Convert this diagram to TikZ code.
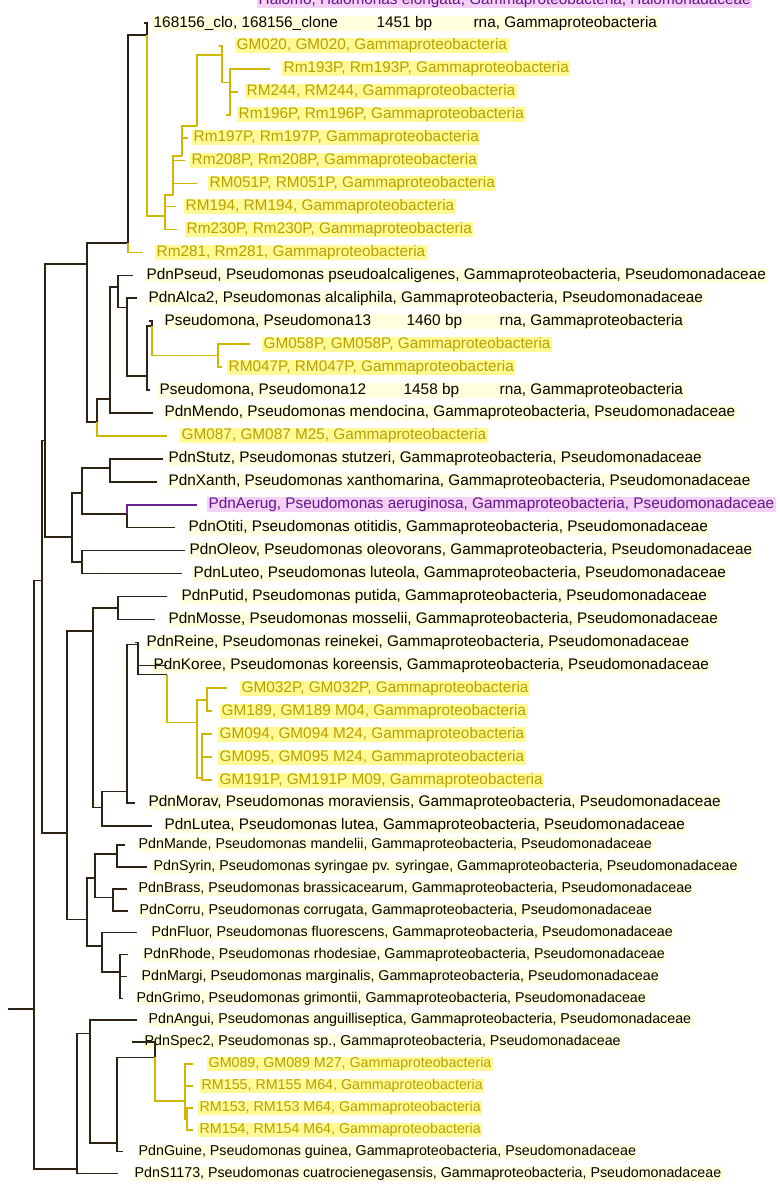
\documentclass[tikz,border=0pt]{standalone}
\usepackage{fontspec}
\setmainfont{Liberation Sans}
\usepackage{tikz}
\usetikzlibrary{positioning}

\definecolor{brn}{RGB}{45,35,20}
\definecolor{yln}{RGB}{208,184,0}
\definecolor{prl}{RGB}{105,35,140}
\definecolor{ytxt}{RGB}{185,160,0}
\definecolor{ptxt}{RGB}{100,20,140}
\definecolor{glowb}{RGB}{255,255,222}
\definecolor{glowy}{RGB}{255,250,150}
\definecolor{glowp}{RGB}{244,210,246}

\newcommand{\gam}{Gammaproteobacteria}
\newcommand{\gampse}{Gammaproteobacteria, Pseudomonadaceae}

\tikzset{
  tree/.style={draw=brn, line width=1.6bp},
  elbow/.style={to path={|- (\tikztotarget)}},
  yel/.style={elbow, draw=yln},
  pur/.style={elbow, draw=prl},
  leaf/.style={anchor=west, inner xsep=1.5bp, inner ysep=0.5bp, text height=11bp, text depth=3bp,
    fill=glowb, text=black, font=\fontsize{15.4}{18}\selectfont},
  yleaf/.style={leaf, fill=glowy, text=ytxt},
  pleaf/.style={leaf, fill=glowp, text=ptxt},
  lowrow/.style={font=\fontsize{14.3}{17}\selectfont, text height=10.2bp, text depth=2.8bp},
}

\begin{document}
\begin{tikzpicture}[x=1bp, y=-1bp,
  declare function={ry(\r)=ifthenelse(\r<35.7,23+22.94*\r,845+21.9*(\r-36));}]
\useasboundingbox (0,0) rectangle (780,1199);
\fill[white] (0,0) rectangle (780,1199);

% internal nodes
\coordinate (root) at (8,{ry(43.5)});
\coordinate (R1) at (34,{ry(43.5)});
\coordinate (R2) at (42,{ry(24.3)});
\coordinate (N1) at (45,{ry(18.2)});
\coordinate (N2) at (87,{ry(10.5)});
\coordinate (X) at (128,{ry(9.6)});
\coordinate (Y) at (147,{ry(0.53)});
\coordinate (Z) at (165,{ry(8.4)});
\coordinate (W) at (173,{ry(7.5)});
\coordinate (S) at (182,{ry(5.8)});
\coordinate (T) at (197,{ry(4.5)});
\coordinate (P) at (222,{ry(1.4)});
\coordinate (Q) at (230,{ry(2.6)});
\coordinate (N3) at (97,{ry(17.4)});
\coordinate (N4) at (110,{ry(16.4)});
\coordinate (N6) at (118,{ry(11.5)});
\coordinate (N7) at (127,{ry(12.4)});
\coordinate (N8) at (147,{ry(15.4)});
\coordinate (N9) at (152,{ry(13.2)});
\coordinate (N10) at (218,{ry(14.5)});
\coordinate (N11) at (72,{ry(22.4)});
\coordinate (N12) at (82,{ry(20.5)});
\coordinate (N13) at (110,{ry(19.4)});
\coordinate (N14) at (127,{ry(21.4)});
\coordinate (N15) at (82,{ry(23.5)});
\coordinate (K) at (67,{ry(35.3)});
\coordinate (M1) at (118,{ry(25.5)});
\coordinate (M2) at (93,{ry(26.5)});
\coordinate (M3) at (102,{ry(34.2)});
\coordinate (M4) at (127,{ry(33.5)});
\coordinate (M5) at (138,{ry(27.1)});
\coordinate (M6) at (167,{ry(28.4)});
\coordinate (M7) at (197,{ry(30.5)});
\coordinate (M8) at (207,{ry(29.5)});
\coordinate (M9) at (202,{ry(32.9)});
\coordinate (C1) at (87,{ry(39.4)});
\coordinate (C2) at (95,{ry(37.5)});
\coordinate (C3) at (117,{ry(36.4)});
\coordinate (C4) at (113,{ry(38.4)});
\coordinate (C5) at (102,{ry(40.6)});
\coordinate (C6) at (120,{ry(41.8)});
\coordinate (B1) at (77,{ry(50.8)});
\coordinate (B2) at (90,{ry(44.6)});
\coordinate (B3) at (117,{ry(49.6)});
\coordinate (B4) at (155,{ry(45.7)});
\coordinate (B5) at (185,{ry(47.7)});
\coordinate (B6) at (187,{ry(48.5)});

% leaf ends
\coordinate (l0) at (144,{ry(0)});
\coordinate (l1) at (219,{ry(1)});
\coordinate (l2) at (270,{ry(2)});
\coordinate (l3) at (238,{ry(3)});
\coordinate (l4) at (226,{ry(4)});
\coordinate (l5) at (188,{ry(5)});
\coordinate (l6) at (185,{ry(6)});
\coordinate (l7) at (197,{ry(7)});
\coordinate (l8) at (176,{ry(8)});
\coordinate (l9) at (177,{ry(9)});
\coordinate (l10) at (143,{ry(10)});
\coordinate (l11) at (133,{ry(11)});
\coordinate (l12) at (137,{ry(12)});
\coordinate (l13) at (149,{ry(13)});
\coordinate (l14) at (250,{ry(14)});
\coordinate (l15) at (222,{ry(15)});
\coordinate (l16) at (150,{ry(16)});
\coordinate (l17) at (153,{ry(17)});
\coordinate (l18) at (167,{ry(18)});
\coordinate (l19) at (163,{ry(19)});
\coordinate (l20) at (157,{ry(20)});
\coordinate (l21) at (197,{ry(21)});
\coordinate (l22) at (175,{ry(22)});
\coordinate (l23) at (185,{ry(23)});
\coordinate (l24) at (182,{ry(24)});
\coordinate (l25) at (167,{ry(25)});
\coordinate (l26) at (155,{ry(26)});
\coordinate (l27) at (135,{ry(27)});
\coordinate (l28) at (167,{ry(28)});
\coordinate (l29) at (227,{ry(29)});
\coordinate (l30) at (212,{ry(30)});
\coordinate (l31) at (212,{ry(31)});
\coordinate (l32) at (212,{ry(32)});
\coordinate (l33) at (212,{ry(33)});
\coordinate (l34) at (135,{ry(34)});
\coordinate (l35) at (152,{ry(35)});
\coordinate (l36) at (125,{ry(36)});
\coordinate (l37) at (147,{ry(37)});
\coordinate (l38) at (127,{ry(38)});
\coordinate (l39) at (128,{ry(39)});
\coordinate (l40) at (137,{ry(40)});
\coordinate (l41) at (128,{ry(41)});
\coordinate (l42) at (127,{ry(42)});
\coordinate (l43) at (123,{ry(43)});
\coordinate (l44) at (137,{ry(44)});
\coordinate (l45) at (132,{ry(45)});
\coordinate (l46) at (193,{ry(46)});
\coordinate (l47) at (193,{ry(47)});
\coordinate (l48) at (193,{ry(48)});
\coordinate (l49) at (193,{ry(49)});
\coordinate (l50) at (123,{ry(50)});
\coordinate (l51) at (118,{ry(51)});

% labels (the first one is cut by the top edge)
\node[pleaf] (tcut) at (257,{ry(-1)}) {Halomo, Halomonas elongata, Gammaproteobacteria, Halomonadaceae};
\node[leaf] (t0) at (152,{ry(0)}) {\makebox[223bp][l]{168156\_clo, 168156\_clone}\makebox[97bp][l]{1451 bp}rna, \gam};
\node[yleaf] (t1) at (235,{ry(1)}) {GM020, GM020, \gam};
\node[yleaf] (t2) at (282,{ry(2)}) {Rm193P, Rm193P, \gam};
\node[yleaf] (t3) at (245,{ry(3)}) {RM244, RM244, \gam};
\node[yleaf] (t4) at (237,{ry(4)}) {Rm196P, Rm196P, \gam};
\node[yleaf] (t5) at (192,{ry(5)}) {Rm197P, Rm197P, \gam};
\node[yleaf] (t6) at (190,{ry(6)}) {Rm208P, Rm208P, \gam};
\node[yleaf] (t7) at (208,{ry(7)}) {RM051P, RM051P, \gam};
\node[yleaf] (t8) at (184,{ry(8)}) {RM194, RM194, \gam};
\node[yleaf] (t9) at (185,{ry(9)}) {Rm230P, Rm230P, \gam};
\node[yleaf] (t10) at (155,{ry(10)}) {Rm281, Rm281, \gam};
\node[leaf] (t11) at (145,{ry(11)}) {PdnPseud, Pseudomonas pseudoalcaligenes, \gampse};
\node[leaf] (t12) at (147,{ry(12)}) {PdnAlca2, Pseudomonas alcaliphila, \gampse};
\node[leaf] (t13) at (163,{ry(13)}) {\makebox[242bp][l]{Pseudomona, Pseudomona13}\makebox[93bp][l]{1460 bp}rna, \gam};
\node[yleaf] (t14) at (262,{ry(14)}) {GM058P, GM058P, \gam};
\node[yleaf] (t15) at (227,{ry(15)}) {RM047P, RM047P, \gam};
\node[leaf] (t16) at (158,{ry(16)}) {\makebox[244bp][l]{Pseudomona, Pseudomona12}\makebox[96bp][l]{1458 bp}rna, \gam};
\node[leaf] (t17) at (163,{ry(17)}) {PdnMendo, Pseudomonas mendocina, \gampse};
\node[yleaf] (t18) at (180,{ry(18)}) {GM087, GM087 M25, \gam};
\node[leaf] (t19) at (167,{ry(19)}) {PdnStutz, Pseudomonas stutzeri, \gampse};
\node[leaf] (t20) at (167,{ry(20)}) {PdnXanth, Pseudomonas xanthomarina, \gampse};
\node[pleaf] (t21) at (207,{ry(21)}) {PdnAerug, Pseudomonas aeruginosa, \gampse};
\node[leaf] (t22) at (187,{ry(22)}) {PdnOtiti, Pseudomonas otitidis, \gampse};
\node[leaf] (t23) at (188,{ry(23)}) {PdnOleov, Pseudomonas oleovorans, \gampse};
\node[leaf] (t24) at (192,{ry(24)}) {PdnLuteo, Pseudomonas luteola, \gampse};
\node[leaf] (t25) at (180,{ry(25)}) {PdnPutid, Pseudomonas putida, \gampse};
\node[leaf] (t26) at (167,{ry(26)}) {PdnMosse, Pseudomonas mosselii, \gampse};
\node[leaf] (t27) at (145,{ry(27)}) {PdnReine, Pseudomonas reinekei, \gampse};
\node[leaf] (t28) at (152,{ry(28)}) {PdnKoree, Pseudomonas koreensis, \gampse};
\node[yleaf] (t29) at (240,{ry(29)}) {GM032P, GM032P, \gam};
\node[yleaf] (t30) at (220,{ry(30)}) {GM189, GM189 M04, \gam};
\node[yleaf] (t31) at (218,{ry(31)}) {GM094, GM094 M24, \gam};
\node[yleaf] (t32) at (218,{ry(32)}) {GM095, GM095 M24, \gam};
\node[yleaf] (t33) at (218,{ry(33)}) {GM191P, GM191P M09, \gam};
\node[leaf] (t34) at (147,{ry(34)}) {PdnMorav, Pseudomonas moraviensis, \gampse};
\node[leaf] (t35) at (163,{ry(35)}) {PdnLutea, Pseudomonas lutea, \gampse};
\node[leaf, lowrow] (t36) at (137,{ry(36)}) {PdnMande, Pseudomonas mandelii, \gampse};
\node[leaf, lowrow] (t37) at (152,{ry(37)}) {PdnSyrin, Pseudomonas syringae pv. syringae, \gampse};
\node[leaf, lowrow] (t38) at (137,{ry(38)}) {PdnBrass, Pseudomonas brassicacearum, \gampse};
\node[leaf, lowrow] (t39) at (138,{ry(39)}) {PdnCorru, Pseudomonas corrugata, \gampse};
\node[leaf, lowrow] (t40) at (150,{ry(40)}) {PdnFluor, Pseudomonas fluorescens, \gampse};
\node[leaf, lowrow] (t41) at (142,{ry(41)}) {PdnRhode, Pseudomonas rhodesiae, \gampse};
\node[leaf, lowrow] (t42) at (140,{ry(42)}) {PdnMargi, Pseudomonas marginalis, \gampse};
\node[leaf, lowrow] (t43) at (135,{ry(43)}) {PdnGrimo, Pseudomonas grimontii, \gampse};
\node[leaf, lowrow] (t44) at (147,{ry(44)}) {PdnAngui, Pseudomonas anguilliseptica, \gampse};
\node[leaf, lowrow] (t45) at (143,{ry(45)}) {PdnSpec2, Pseudomonas sp., \gampse};
\node[yleaf, lowrow] (t46) at (207,{ry(46)}) {GM089, GM089 M27, \gam};
\node[yleaf, lowrow] (t47) at (200,{ry(47)}) {RM155, RM155 M64, \gam};
\node[yleaf, lowrow] (t48) at (198,{ry(48)}) {RM153, RM153 M64, \gam};
\node[yleaf, lowrow] (t49) at (198,{ry(49)}) {RM154, RM154 M64, \gam};
\node[leaf, lowrow] (t50) at (137,{ry(50)}) {PdnGuine, Pseudomonas guinea, \gampse};
\node[leaf, lowrow] (t51) at (133,{ry(51)}) {PdnS1173, Pseudomonas cuatrocienegasensis, \gampse};

% branches
\path[tree] (root) edge (R1)
            (R1) edge[elbow] (R2) (R1) edge[elbow] (B1)
            (R2) edge[elbow] (N1) (R2) edge[elbow] (K)
            (N1) edge[elbow] (N2) (N1) edge[elbow] (N11)
            (N2) edge[elbow] (X) (N2) edge[elbow] (N3)
            (X) edge[elbow] (Y) (X) edge[yel] (l10)
            (Y) edge[elbow] (l0) (Y) edge[yel] (Z)
            (Z) edge[yel] (W) (Z) edge[yel] (l8) (Z) edge[yel] (l9)
            (W) edge[yel] (S) (W) edge[yel] (l6) (W) edge[yel] (l7)
            (S) edge[yel] (T) (S) edge[yel] (l5)
            (T) edge[yel] (P)
            (P) edge[yel] (l1) (P) edge[yel] (Q)
            (Q) edge[yel] (l2) (Q) edge[yel] (l3) (Q) edge[yel] (l4)
            (N3) edge[elbow] (N4) (N3) edge[yel] (l18)
            (N4) edge[elbow] (N6) (N4) edge[elbow] (l17)
            (N6) edge[elbow] (l11) (N6) edge[elbow] (N7)
            (N7) edge[elbow] (l12) (N7) edge[elbow] (N8)
            (N8) edge[elbow] (N9) (N8) edge[elbow] (l16)
            (N9) edge[elbow] (l13) (N9) edge[yel] (N10)
            (N10) edge[yel] (l14) (N10) edge[yel] (l15)
            (N11) edge[elbow] (N12) (N11) edge[elbow] (N15)
            (N12) edge[elbow] (N13) (N12) edge[elbow] (N14)
            (N13) edge[elbow] (l19) (N13) edge[elbow] (l20)
            (N14) edge[pur] (l21) (N14) edge[elbow] (l22)
            (N15) edge[elbow] (l23) (N15) edge[elbow] (l24)
            (K) edge[elbow] (M2) (K) edge[elbow] (C1)
            (M2) edge[elbow] (M1) (M2) edge[elbow] (M3)
            (M1) edge[elbow] (l25) (M1) edge[elbow] (l26)
            (M3) edge[elbow] (M4) (M3) edge[elbow] (l35)
            (M4) edge[elbow] (M5) (M4) edge[elbow] (l34)
            (M5) edge[elbow] (l27) (M5) edge[elbow] (l28) (M5) edge[elbow] (M6)
            (M6) edge[yel] (M7)
            (M7) edge[yel] (M8) (M7) edge[yel] (M9)
            (M8) edge[yel] (l29) (M8) edge[yel] (l30)
            (M9) edge[yel] (l31) (M9) edge[yel] (l32) (M9) edge[yel] (l33)
            (C1) edge[elbow] (C2) (C1) edge[elbow] (C5)
            (C2) edge[elbow] (C3) (C2) edge[elbow] (C4)
            (C3) edge[elbow] (l36) (C3) edge[elbow] (l37)
            (C4) edge[elbow] (l38) (C4) edge[elbow] (l39)
            (C5) edge[elbow] (l40) (C5) edge[elbow] (C6)
            (C6) edge[elbow] (l41) (C6) edge[elbow] (l42) (C6) edge[elbow] (l43)
            (B1) edge[elbow] (B2) (B1) edge[elbow] (l51)
            (B2) edge[elbow] (l44) (B2) edge[elbow] (B3)
            (B3) edge[elbow] (B4) (B3) edge[elbow] (l50)
            (B4) edge[elbow] (l45) (B4) edge[yel] (B5)
            (B5) edge[yel] (l46) (B5) edge[yel] (l47) (B5) edge[yel] (B6)
            (B6) edge[yel] (l48) (B6) edge[yel] (l49);
\end{tikzpicture}
\end{document}
